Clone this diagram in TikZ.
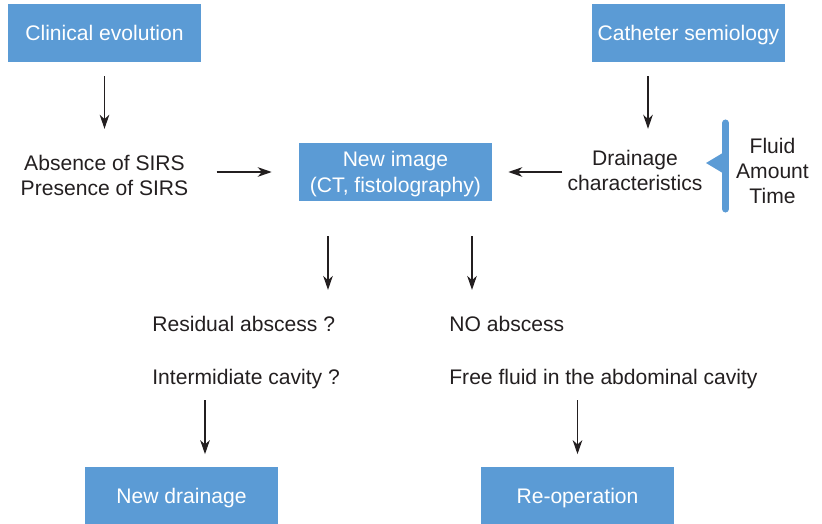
\documentclass[tikz,border=0pt]{standalone}
\usepackage{fontspec}
\setmainfont{Liberation Sans}
\usetikzlibrary{arrows.meta}
\definecolor{boxblue}{HTML}{5B9BD5}
\definecolor{ink}{HTML}{231F20}

\begin{document}
\begin{tikzpicture}[x=0.02cm,y=-0.02cm,>={Stealth[length=8pt,width=5.5pt,inset=2.5pt]},
 font=\fontsize{12}{14.4}\selectfont,
 box/.style={fill=boxblue,text=white,minimum width=3.86cm,minimum height=1.16cm,inner sep=0pt,text depth=0pt,align=center},
 note/.style={text=ink,inner sep=0pt,align=center},
 flow/.style={->,draw=ink,line width=0.6pt}]
\useasboundingbox (0,0) rectangle (822,524);
\node[box] (clin) at (104.5,33) {Clinical evolution};
\node[box] (cath) at (688.5,33) {Catheter semiology};
\node[box] (img) at (395.5,172) {New image\\(CT, fistolography)};
\node[box] (ndrain) at (181.5,495.5) {New drainage};
\node[box] (reop) at (577.5,495.5) {Re-operation};
\node[note] (sirs) at (104.5,175.5) {Absence of SIRS\\Presence of SIRS};
\node[note] (drain) at (635,170.5) {Drainage\\characteristics};
\node[note] (param) at (772.5,171) {Fluid\\Amount\\Time};
\node[note,anchor=base west] (resid) at (152,331) {Residual abscess ?};
\node[note,anchor=base west] (cavity) at (152,384) {Intermidiate cavity ?};
\node[note,anchor=base west] (noabs) at (449,331) {NO abscess};
\node[note,anchor=base west] (fluid) at (449,384) {Free fluid in the abdominal cavity};
% arrow columns
\coordinate (colA) at (328,0);
\coordinate (colB) at (472,0);
\coordinate (colC) at (648,0);
\coordinate (colD) at (205,0);
% bracket in front of the drainage parameters
\draw[boxblue,line width=4pt,line cap=round] (725.5,123) -- (725.5,209);
\fill[boxblue] (706,163) -- (726,151) -- (726,175) -- cycle;
\draw[flow,shorten <=0.28cm,shorten >=0.52cm] (clin.south) -- (sirs.north);
\draw[flow,shorten <=0.28cm,shorten >=0.42cm] (cath.south -| colC) -- (drain.north -| colC);
\draw[flow,shorten <=0.56cm,shorten >=0.54cm] (sirs.east |- img) -- (img.west);
\draw[flow,shorten <=0.1cm,shorten >=0.32cm] (drain.west |- img) -- (img.east);
\draw[flow,shorten <=0.7cm,shorten >=0.51cm] (img.south -| colA) -- (resid.north -| colA);
\draw[flow,shorten <=0.7cm,shorten >=0.51cm] (img.south -| colB) -- (noabs.north -| colB);
\draw[flow,shorten <=0.23cm,shorten >=0.24cm] (cavity.south -| colD) -- (ndrain.north -| colD);
\draw[flow,shorten <=0.23cm,shorten >=0.24cm] (fluid.south -| reop) -- (reop.north);
\end{tikzpicture}
\end{document}
